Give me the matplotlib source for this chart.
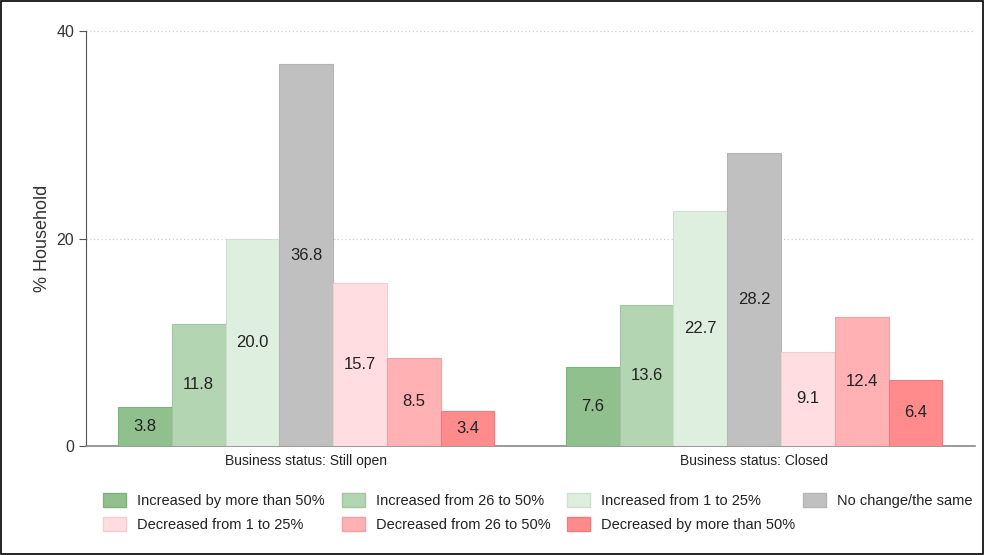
import numpy as np
import matplotlib.pyplot as plt
from matplotlib.patches import Rectangle, Patch

plt.rcParams['font.family'] = ['Liberation Sans', 'DejaVu Sans']

groups = ['Business status: Still open', 'Business status: Closed']
categories = ['Increased by more than 50%', 'Increased from 26 to 50%',
              'Increased from 1 to 25%', 'No change/the same',
              'Decreased from 1 to 25%', 'Decreased from 26 to 50%',
              'Decreased by more than 50%']
still_open = [3.8, 11.8, 20.0, 36.8, 15.7, 8.5, 3.4]
closed = [7.6, 13.6, 22.7, 28.2, 9.1, 12.4, 6.4]

colors = ['#8fc08d', '#b3d5b1', '#dfefdf', '#c0c0c0', '#ffdde0', '#ffb1b3', '#ff8b8d']
edges = ['#7fb07d', '#a3c5a1', '#cfdfcf', '#b5b5b5', '#efcdd0', '#efa1a3', '#ef7b7d']

fig = plt.figure(figsize=(9.84, 5.55), dpi=100)
ax = fig.add_axes([0.0874, 0.1964, 0.9036, 0.7476])

gap = 8.33
for g, vals in enumerate([still_open, closed]):
    for i, v in enumerate(vals):
        x = g * gap + i
        ax.bar(x, v, width=1.0, color=colors[i], edgecolor=edges[i], linewidth=0.8, zorder=3)
        ax.text(x, v / 2, f'{v:.1f}', ha='center', va='center', fontsize=12, color='#222222', zorder=4)

ax.set_xlim(-1.095, gap + 6.5 + 0.61)
ax.set_ylim(0, 40)
ax.set_yticks([0, 20, 40])
ax.tick_params(axis='y', length=5, color='#555555', labelsize=11.5, labelcolor='#333333')
ax.set_xticks([3, gap + 3])
ax.set_xticklabels(groups, fontsize=10, color='#222222')
ax.tick_params(axis='x', length=0, pad=6)
ax.set_ylabel('% Household', fontsize=13, color='#333333', labelpad=4)

for y in [20, 40]:
    ax.axhline(y, color='#cccccc', linestyle=(0, (1, 2)), linewidth=0.9, zorder=1)

for s in ['top', 'right']:
    ax.spines[s].set_visible(False)
ax.spines['left'].set_color('#555555')
ax.spines['bottom'].set_color('#888888')
ax.spines['bottom'].set_linewidth(1.2)

# legend: four columns, filled row by row
handles = [Patch(facecolor=colors[i], edgecolor=edges[i], label=categories[i]) for i in range(7)]
col_x = [103, 342, 567, 803]
columns = [[0, 4], [1, 5], [2, 6], [3]]
for cx, idx in zip(col_x, columns):
    fig.legend([handles[i] for i in idx], [categories[i] for i in idx],
               loc='upper left', bbox_to_anchor=(cx / 984, 1 - 493 / 555),
               borderaxespad=0, borderpad=0, frameon=False, fontsize=10.5,
               handlelength=1.6, handleheight=1.1, handletextpad=0.7,
               labelspacing=0.6, labelcolor='#222222')

fig.add_artist(Rectangle((0.001, 0.001), 0.998, 0.998, transform=fig.transFigure,
                         fill=False, edgecolor='black', linewidth=1.2))

fig.savefig('out.png', dpi=100)
